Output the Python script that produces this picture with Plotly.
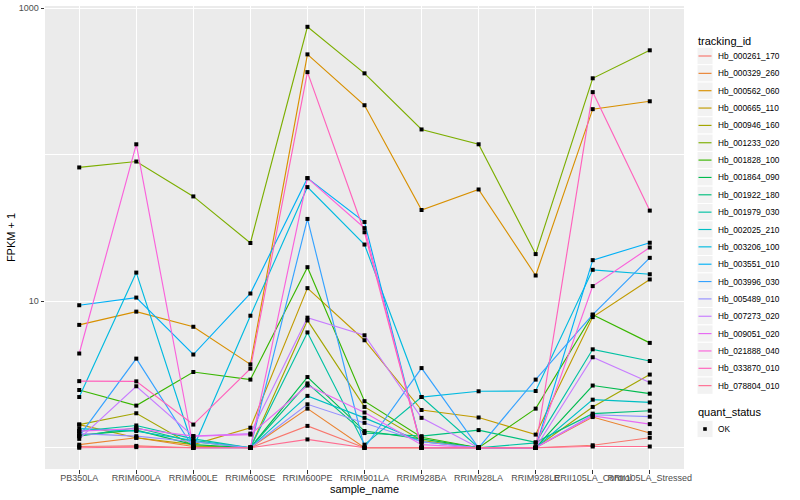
import plotly.graph_objects as go

# ---- data (FPKM + 1) ----
sample_names = ["PB350LA", "RRIM600LA", "RRIM600LE", "RRIM600SE", "RRIM600PE",
                "RRIM901LA", "RRIM928BA", "RRIM928LA", "RRIM928LE",
                "RRII105LA_Control", "RRII105LA_Stressed"]

tracking_ids = ["Hb_000261_170", "Hb_000329_260", "Hb_000562_060", "Hb_000665_110",
                "Hb_000946_160", "Hb_001233_020", "Hb_001828_100", "Hb_001864_090",
                "Hb_001922_180", "Hb_001979_030", "Hb_002025_210", "Hb_003206_100",
                "Hb_003551_010", "Hb_003996_030", "Hb_005489_010", "Hb_007273_020",
                "Hb_009051_020", "Hb_021888_040", "Hb_033870_010", "Hb_078804_010"]

hb_000261_170 = [1.02, 1.03, 1.0, 1.0, 1.41, 1.0, 1.0, 1.0, 1.0, 1.04, 1.17]
hb_000329_260 = [1.05, 1.17, 1.02, 1.0, 1.85, 1.0, 1.0, 1.0, 1.0, 1.62, 1.26]
hb_000562_060 = [6.9, 8.5, 6.7, 3.71, 485, 218, 42, 58, 15, 205, 232]
hb_000665_110 = [1.44, 1.17, 1.05, 1.37, 12.3, 5.42, 1.81, 1.61, 1.23, 7.8, 14.1]
hb_000946_160 = [1.44, 1.72, 1.03, 1.0, 7.4, 1.9, 1.12, 1.0, 1.0, 1.9, 3.16]
hb_001233_020 = [82, 90, 52, 25, 748, 360, 149, 118, 21, 333, 517]
hb_001828_100 = [2.48, 1.94, 3.29, 2.92, 17.1, 2.08, 1.18, 1.0, 1.85, 8.1, 5.2]
hb_001864_090 = [1.22, 1.32, 1.05, 1.0, 3.04, 1.3, 1.15, 1.0, 1.0, 2.66, 2.34]
hb_001922_180 = [1.2, 1.37, 1.1, 1.0, 2.75, 1.26, 1.2, 1.32, 1.09, 1.71, 1.79]
hb_001979_030 = [1.3, 1.42, 1.15, 1.0, 6.13, 1.05, 2.22, 1.0, 1.08, 4.7, 3.91]
hb_002025_210 = [1.35, 1.3, 1.12, 1.0, 2.26, 1.6, 1.1, 1.0, 1.0, 2.13, 2.04]
hb_003206_100 = [2.22, 15.7, 1.0, 7.97, 60.2, 24.4, 2.22, 2.43, 2.44, 16.4, 15.3]
hb_003551_010 = [9.4, 10.6, 4.33, 11.3, 69.3, 34.8, 1.0, 1.0, 1.0, 19.1, 25.1]
hb_003996_030 = [1.2, 4.06, 1.0, 1.0, 36.5, 1.0, 3.5, 1.0, 2.92, 8.1, 19.8]
hb_005489_010 = [1.25, 1.2, 1.1, 1.0, 1.98, 1.48, 1.1, 1.0, 1.0, 1.68, 1.63]
hb_007273_020 = [1.15, 2.63, 1.2, 1.25, 7.73, 5.86, 1.6, 1.0, 1.0, 4.15, 2.79]
hb_009051_020 = [1.3, 1.35, 1.2, 1.23, 2.66, 1.74, 1.05, 1.0, 1.0, 1.65, 1.45]
hb_021888_040 = [4.4, 118, 1.0, 1.0, 69.3, 31.6, 1.0, 1.0, 1.0, 12.7, 23.3]
hb_033870_010 = [2.85, 2.84, 1.44, 3.47, 367, 29.6, 1.0, 1.0, 1.0, 268, 41.6]
hb_078804_010 = [1.0, 1.01, 1.0, 1.0, 1.14, 1.0, 1.0, 1.0, 1.0, 1.02, 1.02]

series_values = [hb_000261_170, hb_000329_260, hb_000562_060, hb_000665_110,
                 hb_000946_160, hb_001233_020, hb_001828_100, hb_001864_090,
                 hb_001922_180, hb_001979_030, hb_002025_210, hb_003206_100,
                 hb_003551_010, hb_003996_030, hb_005489_010, hb_007273_020,
                 hb_009051_020, hb_021888_040, hb_033870_010, hb_078804_010]

colors = ["#F8766D", "#EA8331", "#D89000", "#C09B00", "#A3A500", "#7CAE00",
          "#39B600", "#00BB4E", "#00BF7D", "#00C1A3", "#00BFC4", "#00BAE0",
          "#00B0F6", "#35A2FF", "#9590FF", "#C77CFF", "#E76BF3", "#FA62DB",
          "#FF62BC", "#FF6C91"]

quant_status = "OK"

FONT = "Liberation Sans, Arial, Helvetica, sans-serif"
W, H = 800, 500
ML, MR, MT, MB = 45, 116, 6, 31


def px2x(px):
    return (px - ML) / (W - ML - MR)


def px2y(py):
    return (H - MB - py) / (H - MT - MB)


fig = go.Figure()
for tid, vals, col in zip(tracking_ids, series_values, colors):
    fig.add_trace(go.Scatter(
        x=sample_names, y=vals, mode="lines", name=tid,
        line=dict(color=col, width=1.15), showlegend=False))

all_x = [s for _ in series_values for s in sample_names]
all_y = [v for vals in series_values for v in vals]
fig.add_trace(go.Scatter(
    x=all_x, y=all_y, mode="markers", name=quant_status,
    marker=dict(symbol="square", size=4, color="black"), showlegend=False))

# ---- legend drawn in the right margin (ggplot style keys) ----
shapes = []
annotations = []
key_x0, key_x1 = 697, 713
row0, row_h = 56, 17.35
annotations.append(dict(text="tracking_id", x=px2x(696), y=px2y(41),
                        xref="paper", yref="paper", xanchor="left", yanchor="middle",
                        showarrow=False, font=dict(size=11, color="black")))
for i, (tid, col) in enumerate(zip(tracking_ids, colors)):
    cy = row0 + i * row_h
    shapes.append(dict(type="rect", xref="paper", yref="paper",
                       x0=px2x(key_x0), x1=px2x(key_x1),
                       y0=px2y(cy + row_h / 2), y1=px2y(cy - row_h / 2),
                       fillcolor="#F2F2F2", line=dict(color="white", width=1)))
    shapes.append(dict(type="line", xref="paper", yref="paper",
                       x0=px2x(key_x0 + 1.5), x1=px2x(key_x1 - 1.5),
                       y0=px2y(cy), y1=px2y(cy),
                       line=dict(color=col, width=1.15)))
    annotations.append(dict(text=tid, x=px2x(716), y=px2y(cy),
                            xref="paper", yref="paper", xanchor="left", yanchor="middle",
                            showarrow=False, font=dict(size=8.3, color="black")))

annotations.append(dict(text="quant_status", x=px2x(696), y=px2y(412),
                        xref="paper", yref="paper", xanchor="left", yanchor="middle",
                        showarrow=False, font=dict(size=11, color="black")))
ok_y = 429
shapes.append(dict(type="rect", xref="paper", yref="paper",
                   x0=px2x(key_x0), x1=px2x(key_x1),
                   y0=px2y(ok_y + row_h / 2), y1=px2y(ok_y - row_h / 2),
                   fillcolor="#F2F2F2", line=dict(color="white", width=1)))
shapes.append(dict(type="rect", xref="paper", yref="paper",
                   x0=px2x(703.2), x1=px2x(706.8),
                   y0=px2y(ok_y + 1.8), y1=px2y(ok_y - 1.8),
                   fillcolor="black", line=dict(width=0)))
annotations.append(dict(text=quant_status, x=px2x(716), y=px2y(ok_y),
                        xref="paper", yref="paper", xanchor="left", yanchor="middle",
                        showarrow=False, font=dict(size=8.3, color="black")))

fig.update_layout(
    width=W, height=H,
    margin=dict(l=ML, r=MR, t=MT, b=MB, autoexpand=False),
    paper_bgcolor="white", plot_bgcolor="#EBEBEB",
    font=dict(family=FONT, color="black"),
    showlegend=False,
    shapes=shapes, annotations=annotations,
    xaxis=dict(type="category", categoryorder="array", categoryarray=sample_names,
               range=[-0.6, len(sample_names) - 0.4], tickangle=0,
               showgrid=True, gridcolor="white", gridwidth=1.1,
               ticks="outside", ticklen=3.5, tickcolor="#333333", tickwidth=1,
               tickfont=dict(size=9, color="#4D4D4D"), ticklabelstandoff=-3,
               title=dict(text="sample_name", font=dict(size=11), standoff=3),
               zeroline=False, showline=False, automargin=False),
    yaxis=dict(type="log", range=[-0.145, 3.016],
               tickmode="array", tickvals=[10, 1000], ticktext=["10", "1000"],
               showgrid=True, gridcolor="white", gridwidth=1.1,
               minor=dict(tickvals=[1, 100], showgrid=True, gridcolor="white",
                          gridwidth=0.55, ticks=""),
               ticks="outside", ticklen=3.5, tickcolor="#333333", tickwidth=1,
               tickfont=dict(size=9, color="#4D4D4D"),
               title=dict(text="FPKM + 1", font=dict(size=11), standoff=0),
               zeroline=False, showline=False, automargin=False),
)

# the page's default 8px body margin would shift the 800x500 figure; remove it
fig.write_html("out.html", config={"displayModeBar": False},
               post_script="document.body.style.margin='0px';")
